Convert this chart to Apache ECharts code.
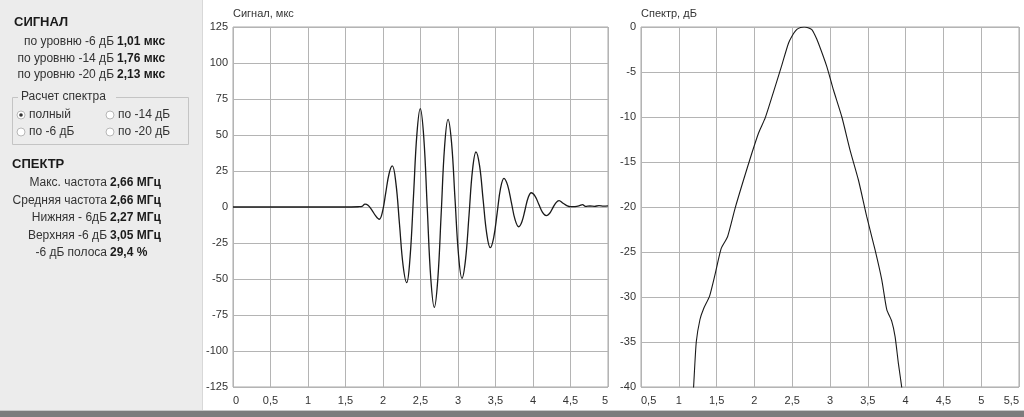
<!DOCTYPE html>
<html>
<head>
<meta charset="utf-8">
<script src="https://cdn.jsdelivr.net/npm/echarts@6/dist/echarts.min.js"></script>
<style>
html,body{margin:0;padding:0;background:#fff;}
#c{width:1024px;height:417px;}
</style>
</head>
<body>
<div id="c"></div>
<script>
// ---- data ----
const signalT = [0, 1.5, 1.68, 1.72, 1.76, 1.8, 1.85, 1.9, 1.95, 1.994, 2.037, 2.081, 2.124, 2.172, 2.22, 2.268, 2.316, 2.361, 2.407, 2.452, 2.497, 2.544, 2.59, 2.637, 2.684, 2.73, 2.776, 2.821, 2.867, 2.914, 2.96, 3.007, 3.053, 3.1, 3.147, 3.193, 3.24, 3.288, 3.335, 3.383, 3.43, 3.476, 3.522, 3.567, 3.613, 3.662, 3.712, 3.761, 3.81, 3.852, 3.894, 3.935, 3.977, 4.027, 4.077, 4.127, 4.177, 4.22, 4.262, 4.305, 4.347, 4.4, 4.45, 4.5, 4.56, 4.62, 4.66, 4.7, 4.76, 4.82, 4.88, 4.94, 5.0];
const signalV = [0, 0, 0.2, 0.4, 2.0, 1.2, -2, -6, -8.5, -3.1, 10, 23.1, 28.5, 16.6, -12, -40.6, -52.5, -34.8, 7.9, 50.6, 68.3, 48.1, -0.7, -49.5, -69.7, -50.6, -4.4, 41.8, 60.9, 44.7, 5.7, -33.3, -49.5, -36.7, -5.7, 25.4, 38.2, 28.5, 5, -18.5, -28.2, -21.2, -4.2, 12.9, 19.9, 15, 3.1, -8.8, -13.7, -10.2, -1.9, 6.4, 9.9, 7.6, 1.9, -3.7, -6.0, -4.5, -0.8, 2.9, 4.4, 2.6, 1.0, 0.2, 0.3, 0.9, 1.6, 0.4, 0.7, 0.5, 0.9, 0.6, 0.8];
const spectrumF = [1.18, 1.195, 1.231, 1.28, 1.328, 1.407, 1.482, 1.561, 1.645, 1.746, 1.856, 1.967, 2.054, 2.143, 2.253, 2.364, 2.451, 2.52, 2.562, 2.61, 2.658, 2.71, 2.76, 2.8, 2.847, 2.958, 3.046, 3.157, 3.266, 3.376, 3.487, 3.597, 3.685, 3.751, 3.817, 3.861, 3.905, 3.95, 3.96];
const spectrumDb = [-42, -40.1, -35, -32.5, -31.3, -29.9, -27.4, -24.6, -23.3, -20.1, -17, -14, -11.8, -10.1, -7.2, -4.2, -1.8, -0.7, -0.26, -0.05, 0, -0.08, -0.3, -0.9, -1.8, -4.4, -7, -10, -13.7, -17, -21.1, -24.8, -28.1, -31.4, -32.7, -34.4, -37.4, -40.1, -41];

const signalTitle = 'Сигнал, мкс';
const spectrumTitle = 'Спектр, дБ';
const signalHeader = 'СИГНАЛ';
const signalLabels = ['по уровню -6 дБ', 'по уровню -14 дБ', 'по уровню -20 дБ'];
const signalValues = ['1,01 мкс', '1,76 мкс', '2,13 мкс'];
const groupTitle = 'Расчет спектра';
const radioLabels = ['полный', 'по -14 дБ', 'по -6 дБ', 'по -20 дБ'];
const spectrumHeader = 'СПЕКТР';
const spectrumLabels = ['Макс. частота', 'Средняя частота', 'Нижняя - 6дБ', 'Верхняя -6 дБ', '-6 дБ полоса'];
const spectrumValues = ['2,66 МГц', '2,66 МГц', '2,27 МГц', '3,05 МГц', '29,4 %'];

// ---- chart ----
const FONT = 'Liberation Sans, Arial, sans-serif';
const chart = echarts.init(document.getElementById('c'), null, {renderer: 'canvas'});
const fmt = v => String(+v.toFixed(2)).replace('.', ',');

const gridCol = '#b4b4b4';
const labelStyle = {color: '#333', fontSize: 11, fontFamily: FONT};

const graphics = [];
// left panel background
graphics.push({type: 'rect', left: 0, top: 0, shape: {x: 0, y: 0, width: 202, height: 417}, style: {fill: '#ececec'}, z: -10});
graphics.push({type: 'line', shape: {x1: 202.5, y1: 0, x2: 202.5, y2: 411}, style: {stroke: '#d8d8d8', lineWidth: 1}, z: -9});
// bottom band
graphics.push({type: 'rect', shape: {x: 0, y: 411, width: 1024, height: 6}, style: {fill: '#7c7c7c'}, z: -9});
graphics.push({type: 'line', shape: {x1: 0, y1: 410.5, x2: 1024, y2: 410.5}, style: {stroke: '#c8c8c8', lineWidth: 1}, z: -9});

const txt = (x, y, text, opts) => Object.assign({
  type: 'text', x: x, y: y,
  style: Object.assign({text: text, fill: '#1a1a1a', font: '12px ' + FONT, textVerticalAlign: 'middle'}, opts || {})
});
const bold = '700 12px ' + FONT;

graphics.push(txt(14, 22, signalHeader, {font: '700 13px ' + FONT}));
signalLabels.forEach((s, i) => {
  const y = 41.5 + i * 16.7;
  graphics.push(txt(114, y, s, {textAlign: 'right', fill: '#333'}));
  graphics.push(txt(117, y, signalValues[i], {font: bold}));
});
// group box
graphics.push({type: 'rect', shape: {x: 12.5, y: 97.5, width: 176, height: 47}, style: {fill: 'none', stroke: '#c4c4c4', lineWidth: 1}});
graphics.push({type: 'rect', shape: {x: 18, y: 91, width: 98, height: 12}, style: {fill: '#ececec'}});
graphics.push(txt(21, 97, groupTitle, {fill: '#333'}));
const radioPos = [[21, 115], [110, 115], [21, 132], [110, 132]];
radioLabels.forEach((s, i) => {
  const p = radioPos[i];
  graphics.push({type: 'circle', shape: {cx: p[0], cy: p[1], r: 4}, style: {fill: '#fff', stroke: '#b8b8b8', lineWidth: 1}});
  if (i === 0) graphics.push({type: 'circle', shape: {cx: p[0], cy: p[1], r: 1.8}, style: {fill: '#333'}});
  graphics.push(txt(p[0] + 8, p[1], s, {fill: '#333'}));
});
graphics.push(txt(12, 164, spectrumHeader, {font: '700 13px ' + FONT}));
spectrumLabels.forEach((s, i) => {
  const y = 183 + i * 17.4;
  graphics.push(txt(107, y, s, {textAlign: 'right', fill: '#333'}));
  graphics.push(txt(110, y, spectrumValues[i], {font: bold}));
});
// chart titles
graphics.push(txt(233, 14, signalTitle, {font: '11px ' + FONT, fill: '#333'}));
graphics.push(txt(641, 14, spectrumTitle, {font: '11px ' + FONT, fill: '#333'}));

const mkX = (idx, min, max) => ({
  type: 'value', gridIndex: idx, min: min, max: max, interval: 0.5,
  axisLine: {show: false}, axisTick: {show: false},
  splitLine: {show: true, lineStyle: {color: gridCol, width: 1}},
  axisLabel: Object.assign({margin: 8, formatter: fmt, alignMinLabel: 'left', alignMaxLabel: 'right', showMinLabel: true, showMaxLabel: true}, labelStyle)
});
const mkY = (idx, min, max, interval) => ({
  type: 'value', gridIndex: idx, min: min, max: max, interval: interval,
  axisLine: {show: false}, axisTick: {show: false},
  splitLine: {show: true, lineStyle: {color: gridCol, width: 1}},
  axisLabel: Object.assign({margin: 5, formatter: fmt}, labelStyle)
});

chart.setOption({
  backgroundColor: '#ffffff',
  animation: false,
  graphic: graphics,
  grid: [
    {left: 233, top: 27, width: 375, height: 360, show: true, backgroundColor: '#fff', borderColor: '#a8a8a8', borderWidth: 1},
    {left: 641, top: 27, width: 378, height: 360, show: true, backgroundColor: '#fff', borderColor: '#a8a8a8', borderWidth: 1}
  ],
  xAxis: [mkX(0, 0, 5), mkX(1, 0.5, 5.5)],
  yAxis: [mkY(0, -125, 125, 25), mkY(1, -40, 0, 5)],
  series: [
    {type: 'line', xAxisIndex: 0, yAxisIndex: 0, data: signalT.map((t, i) => [t, signalV[i]]),
     showSymbol: false, smooth: 0.4, lineStyle: {color: '#1a1a1a', width: 1.3}, clip: true},
    {type: 'line', xAxisIndex: 1, yAxisIndex: 1, data: spectrumF.map((f, i) => [f, spectrumDb[i]]),
     showSymbol: false, smooth: 0.2, lineStyle: {color: '#1a1a1a', width: 1.1}, clip: true}
  ]
});
</script>
</body>
</html>
